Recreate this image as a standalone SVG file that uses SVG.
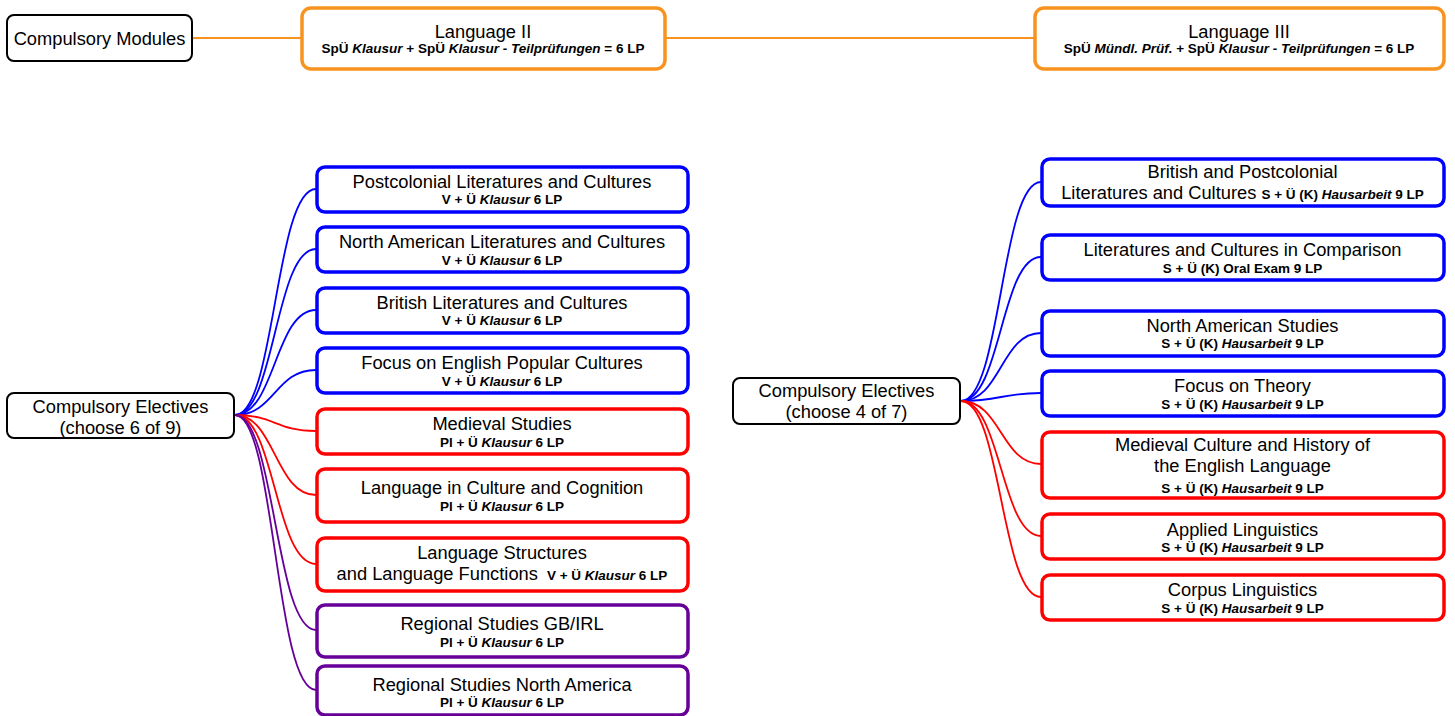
<svg xmlns="http://www.w3.org/2000/svg" width="1455" height="716" viewBox="0 0 1455 716">
<style>
text{font-family:"Liberation Sans",Arial,sans-serif;fill:#000;text-anchor:middle}
.t{font-size:18.3px}
.s{font-size:13.5px;font-weight:bold}
.i{font-style:italic}
.root{fill:#fff;stroke:#000;stroke-width:2}
.or{fill:#fff;stroke:#F7931E;stroke-width:3.5}
.bl{fill:#fff;stroke:#0000FF;stroke-width:3.5}
.rd{fill:#fff;stroke:#FF0000;stroke-width:3.5}
.pu{fill:#fff;stroke:#660099;stroke-width:3.5}
.c{fill:none;stroke-width:1.8}
.cb{stroke:#0000FF}.cr{stroke:#FF0000}.cp{stroke:#660099}.co{stroke:#F7931E;stroke-width:2}
</style>
<g id="connectors">
<path class="c co" d="M192,38 H301"/>
<path class="c co" d="M665,38 H1034"/>
<path class="c cb" d="M235,415 C275,415 275,189 316,189"/>
<path class="c cb" d="M235,415 C275,415 275,249 316,249"/>
<path class="c cb" d="M235,415 C275,415 275,310 316,310"/>
<path class="c cb" d="M235,415 C275,415 275,370 316,370"/>
<path class="c cr" d="M235,415 C275,415 275,431 316,431"/>
<path class="c cr" d="M235,415 C275,415 275,495 316,495"/>
<path class="c cr" d="M235,415 C275,415 275,564 316,564"/>
<path class="c cp" d="M235,415 C275,415 275,630 316,630"/>
<path class="c cp" d="M235,415 C275,415 275,690 316,690"/>
<path class="c cb" d="M961,401 C1001,401 1001,182 1041,182"/>
<path class="c cb" d="M961,401 C1001,401 1001,257 1041,257"/>
<path class="c cb" d="M961,401 C1001,401 1001,333 1041,333"/>
<path class="c cb" d="M961,401 C1001,401 1001,393 1041,393"/>
<path class="c cr" d="M961,401 C1001,401 1001,464 1041,464"/>
<path class="c cr" d="M961,401 C1001,401 1001,536 1041,536"/>
<path class="c cr" d="M961,401 C1001,401 1001,597 1041,597"/>
</g>
<g id="compulsory-modules"><rect class="root" x="7" y="15" width="185" height="46" rx="7"/><text class="t" x="99.5" y="44.5">Compulsory Modules</text></g>
<g id="language-2"><rect class="or" x="302" y="8" width="363" height="61" rx="9"/><text class="t" x="483" y="38">Language II</text><text class="s" x="483" y="52.5">SpÜ <tspan class="i">Klausur</tspan> + SpÜ <tspan class="i">Klausur - Teilprüfungen</tspan> = 6 LP</text></g>
<g id="language-3"><rect class="or" x="1035" y="8" width="409" height="61" rx="9"/><text class="t" x="1239" y="38">Language III</text><text class="s" x="1239" y="52.5">SpÜ <tspan class="i">Mündl. Prüf.</tspan> + SpÜ <tspan class="i">Klausur - Teilprüfungen</tspan>  = 6 LP</text></g>

<g id="electives-left"><rect class="root" x="7" y="393" width="227" height="45" rx="7"/><text class="t" x="120.5" y="412.5">Compulsory Electives</text><text class="t" x="120.5" y="433.5">(choose 6 of 9)</text></g>
<g id="postcolonial"><rect class="bl" x="317" y="167" width="371" height="45" rx="8"/><text class="t" x="502" y="188">Postcolonial Literatures and Cultures</text><text class="s" x="502" y="204">V + Ü <tspan class="i">Klausur</tspan> 6 LP</text></g>
<g id="north-american"><rect class="bl" x="317" y="227" width="371" height="45" rx="8"/><text class="t" x="502" y="248">North American Literatures and Cultures</text><text class="s" x="502" y="264.5">V + Ü <tspan class="i">Klausur</tspan> 6 LP</text></g>
<g id="british"><rect class="bl" x="317" y="288" width="371" height="45" rx="8"/><text class="t" x="502" y="309">British Literatures and Cultures</text><text class="s" x="502" y="325">V + Ü <tspan class="i">Klausur</tspan> 6 LP</text></g>
<g id="focus-popular"><rect class="bl" x="317" y="348" width="371" height="45" rx="8"/><text class="t" x="502" y="369">Focus on English Popular Cultures</text><text class="s" x="502" y="385.5">V + Ü <tspan class="i">Klausur</tspan> 6 LP</text></g>
<g id="medieval"><rect class="rd" x="317" y="409" width="371" height="45" rx="8"/><text class="t" x="502" y="430">Medieval Studies</text><text class="s" x="502" y="446.5">Pl + Ü <tspan class="i">Klausur</tspan> 6 LP</text></g>
<g id="lang-culture"><rect class="rd" x="317" y="469" width="371" height="53" rx="8"/><text class="t" x="502" y="494">Language in Culture and Cognition</text><text class="s" x="502" y="510.5">Pl + Ü <tspan class="i">Klausur</tspan> 6 LP</text></g>
<g id="lang-structures"><rect class="rd" x="317" y="538" width="371" height="53" rx="8"/><text class="t" x="502" y="559">Language Structures</text><text class="t" x="502" y="580">and Language Functions <tspan class="s" dx="4">V + Ü <tspan class="i">Klausur</tspan> 6 LP</tspan></text></g>
<g id="regional-gb"><rect class="pu" x="317" y="605" width="371" height="52" rx="8"/><text class="t" x="502" y="630">Regional Studies GB/IRL</text><text class="s" x="502" y="646.5">Pl + Ü <tspan class="i">Klausur</tspan> 6 LP</text></g>
<g id="regional-na"><rect class="pu" x="317" y="666" width="371" height="49" rx="8"/><text class="t" x="502" y="691">Regional Studies North America</text><text class="s" x="502" y="706.5">Pl + Ü <tspan class="i">Klausur</tspan> 6 LP</text></g>

<g id="electives-right"><rect class="root" x="733" y="378" width="227" height="46" rx="7"/><text class="t" x="846.5" y="397">Compulsory Electives</text><text class="t" x="846.5" y="418">(choose 4 of 7)</text></g>
<g id="british-postcolonial"><rect class="bl" x="1042" y="159" width="402" height="47" rx="8"/><text class="t" x="1242.5" y="178">British and Postcolonial</text><text class="t" x="1242.5" y="198.5">Literatures and Cultures <tspan class="s">S + Ü (K) <tspan class="i">Hausarbeit</tspan> 9 LP</tspan></text></g>
<g id="lit-comparison"><rect class="bl" x="1042" y="235" width="402" height="45" rx="8"/><text class="t" x="1242.5" y="256">Literatures and Cultures in Comparison</text><text class="s" x="1242.5" y="272.5">S + Ü (K) Oral Exam 9 LP</text></g>
<g id="na-studies"><rect class="bl" x="1042" y="311" width="402" height="45" rx="8"/><text class="t" x="1242.5" y="332">North American Studies</text><text class="s" x="1242.5" y="348">S + Ü (K) <tspan class="i">Hausarbeit</tspan> 9 LP</text></g>
<g id="theory"><rect class="bl" x="1042" y="371" width="402" height="45" rx="8"/><text class="t" x="1242.5" y="392">Focus on Theory</text><text class="s" x="1242.5" y="408.5">S + Ü (K) <tspan class="i">Hausarbeit</tspan> 9 LP</text></g>
<g id="medieval-history"><rect class="rd" x="1042" y="432" width="402" height="66" rx="8"/><text class="t" x="1242.5" y="450.5">Medieval Culture and History of</text><text class="t" x="1242.5" y="472">the English Language</text><text class="s" x="1242.5" y="493">S + Ü (K) <tspan class="i">Hausarbeit</tspan> 9 LP</text></g>
<g id="applied"><rect class="rd" x="1042" y="514" width="402" height="45" rx="8"/><text class="t" x="1242.5" y="535.5">Applied Linguistics</text><text class="s" x="1242.5" y="552">S + Ü (K) <tspan class="i">Hausarbeit</tspan> 9 LP</text></g>
<g id="corpus"><rect class="rd" x="1042" y="575" width="402" height="45" rx="8"/><text class="t" x="1242.5" y="596">Corpus Linguistics</text><text class="s" x="1242.5" y="612.5">S + Ü (K) <tspan class="i">Hausarbeit</tspan> 9 LP</text></g>
</svg>
